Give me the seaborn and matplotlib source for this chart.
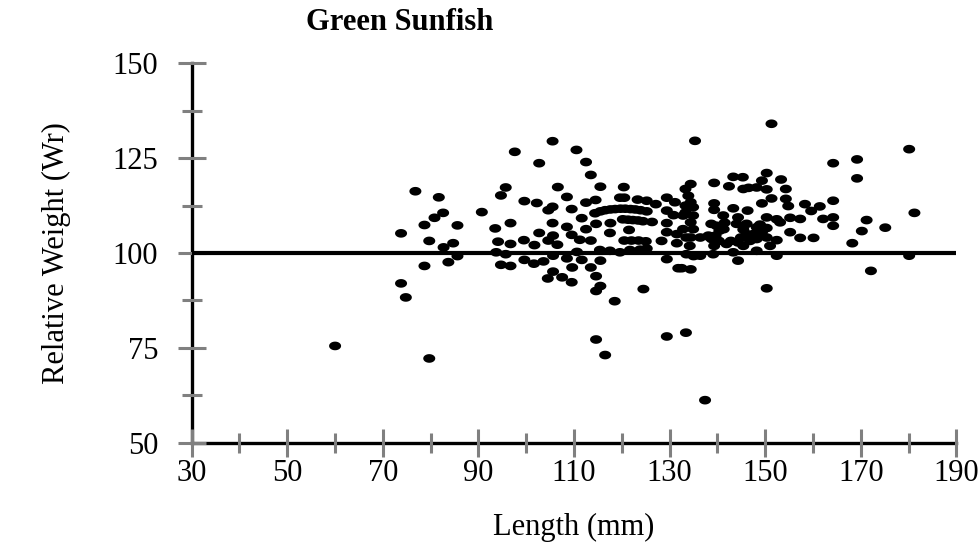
import numpy as np
import matplotlib
matplotlib.use("Agg")
import matplotlib.pyplot as plt
from matplotlib.path import Path
from matplotlib.ticker import MultipleLocator
import seaborn as sns
import pandas as pd

# ---------------- data ----------------
length_mm = [
    60.0, 73.8, 73.8, 74.8, 76.8, 78.7, 78.7, 79.7, 79.7, 80.8, 81.7, 82.6, 82.7, 83.7, 84.7, 85.6, 85.6,
    90.7, 93.5, 93.7, 94.1, 94.7, 94.7, 95.7, 95.7, 96.7, 96.7, 96.7, 97.6, 99.5, 99.6, 99.6,
    101.6, 101.7, 102.2, 102.7, 102.7, 104.6, 104.6, 104.5, 105.5, 105.5, 105.5, 105.6, 105.6, 105.6,
    106.5, 106.6, 107.5, 108.5, 108.5, 109.5, 109.6, 109.5, 110.5, 111.6, 111.6, 111.2, 112.5, 112.5,
    112.5, 113.5, 113.5, 113.5, 114.5, 114.6, 114.6, 114.6, 114.6, 115.5, 115.5, 115.5, 116.5, 117.5,
    118.5, 120.4, 124.5, 129.4,
    114.4, 115.5, 116.5, 117.6, 118.6, 119.7, 120.7, 121.8, 122.8, 123.9, 125.2,
    119.6, 120.5, 123.3, 125.2, 127.1, 129.4, 131.1, 129.4, 130.8,
    120.2, 121.3, 122.3, 123.4, 124.4, 126.3,
    117.6, 121.5,
    120.5, 122.0, 123.5, 125.0, 128.3, 131.5,
    115.4, 117.5, 119.6, 121.7, 123.8, 125.2,
    129.4, 131.8, 103.6, 108.5, 110.6, 109.5,
    129.4, 129.4, 131.5, 133.3, 133.9, 134.4, 134.9, 134.4, 134.9, 134.4, 136.4, 139.3, 139.8, 139.3,
    138.8, 138.1, 132.5, 134.4, 136.4, 133.4, 135.3, 134.4, 133.3,
    132.8, 134.9, 132.8, 133.5, 134.2, 133.5, 135.0, 133.3,
    151.3, 180.1, 164.2, 169.2, 169.2, 164.2, 181.2, 171.2, 170.2, 175.1, 168.2, 180.1, 172.1, 144.3,
    150.3, 137.4,
    150.3, 149.3, 148.2, 150.3, 153.3, 154.3, 143.3, 145.3, 142.4, 145.4, 146.5, 139.3,
    151.3, 154.3, 149.3, 158.3, 161.4, 159.6, 154.8, 143.3, 146.3, 139.3, 141.2, 144.3,
    146.1, 144.0, 148.9, 150.3, 152.4, 153.1, 155.2, 157.3, 162.1, 164.2, 164.2,
    155.2, 157.3, 160.1, 152.4, 151.0,
    138.7, 141.3, 139.6, 140.3, 142.8, 144.9, 146.1, 148.2, 149.3,
    141.9, 144.3, 145.4, 146.8, 148.2, 150.3,
    139.1, 143.3, 148.2, 152.4,
    145.4, 147.5, 150.3, 141.5, 140.4, 138.2,
]
rel_weight = [
    75.5, 105.2, 92.0, 88.3, 116.3, 107.4, 96.6, 103.2, 72.2, 109.3, 114.7, 110.6, 101.5, 97.6, 102.6, 107.3, 99.2,
    110.8, 106.5, 100.2, 103.0, 96.9, 115.2, 117.3, 99.7, 107.9, 102.4, 96.6, 126.7, 103.4, 98.2, 113.7,
    97.2, 102.1, 113.2, 123.7, 105.3, 111.3, 103.3, 93.3, 129.5, 112.2, 107.9, 104.6, 95.1, 99.3,
    102.2, 117.4, 93.6, 114.8, 106.9, 111.6, 96.2, 92.3, 127.2, 109.2, 98.2, 103.5, 124.0, 113.3,
    106.3, 103.3, 120.6, 96.2, 114.0, 107.7, 93.9, 90.0, 77.2, 117.5, 98.0, 91.3, 73.1, 105.3,
    87.3, 117.4, 90.5, 78.0,
    110.5, 111.0, 111.3, 111.5, 111.6, 111.7, 111.7, 111.6, 111.5, 111.3, 111.0,
    114.6, 114.6, 114.1, 113.8, 112.9, 114.6, 113.4, 111.2, 110.0,
    108.9, 108.8, 108.7, 108.6, 108.4, 108.2,
    107.9, 106.1,
    103.3, 103.3, 103.3, 103.1, 103.2, 102.6,
    100.8, 100.6, 100.2, 100.8, 100.9, 101.2,
    98.4, 96.0, 97.8, 98.6, 100.3, 104.8,
    107.9, 105.5, 105.0, 110.7, 115.1, 113.4, 112.1, 108.1, 106.3, 104.1, 104.1, 113.1, 107.2, 101.9,
    103.7, 104.6, 96.0, 95.7, 99.3, 79.0, 129.6, 118.2, 116.9,
    109.9, 109.9, 106.3, 104.1, 101.9, 99.7, 99.2, 112.5,
    134.1, 127.4, 123.7, 124.7, 119.7, 113.8, 110.6, 108.7, 105.8, 106.7, 102.6, 99.3, 95.3, 98.0,
    90.7, 61.2,
    121.1, 119.1, 117.3, 116.8, 119.4, 116.9, 120.1, 120.0, 117.6, 116.9, 117.2, 118.5,
    114.4, 114.3, 113.1, 112.9, 112.3, 111.1, 112.4, 111.8, 111.2, 111.4, 109.9, 109.4,
    107.7, 107.7, 107.5, 109.4, 108.9, 108.1, 109.3, 109.0, 109.0, 109.4, 107.2,
    105.5, 104.0, 104.0, 103.4, 101.9,
    107.7, 106.3, 104.6, 103.2, 103.2, 104.1, 105.0, 106.8, 105.5,
    102.4, 102.8, 101.9, 103.2, 103.7, 104.1,
    99.7, 100.2, 100.6, 99.3,
    106.2, 105.0, 106.6, 108.0, 105.9, 104.3,
]
ref_x = [30, 190]
ref_y = [100, 100]
x_ticks = [30, 50, 70, 90, 110, 130, 150, 170, 190]
y_ticks = [50, 75, 100, 125, 150]

df = pd.DataFrame({"Length": length_mm, "Wr": rel_weight})

# ---------------- figure ----------------
sns.set_theme(style="white")
plt.rcParams["font.family"] = ["Liberation Serif", "DejaVu Serif"]
plt.rcParams["text.color"] = "black"
plt.rcParams["axes.labelcolor"] = "black"
plt.rcParams["xtick.color"] = "#808080"
plt.rcParams["ytick.color"] = "#808080"

fig = plt.figure(figsize=(9.79, 5.53), dpi=100)
ax = fig.add_axes([0.1958, 0.1996, 0.7812, 0.6856])

t = np.linspace(0, 2 * np.pi, 40)
ellipse = Path(np.column_stack([np.cos(t), 0.72 * np.sin(t)]), closed=True)

ax.plot(ref_x, ref_y, color="black", lw=3.0, solid_capstyle="butt", zorder=1)
sns.scatterplot(data=df, x="Length", y="Wr", ax=ax, marker=ellipse, s=75,
                color="black", edgecolor="none", linewidth=0, zorder=2)

ax.set_xlim(30, 190)
ax.set_ylim(50, 150)
ax.set_xticks(x_ticks)
ax.set_yticks(y_ticks)
ax.xaxis.set_minor_locator(MultipleLocator(10))
ax.yaxis.set_minor_locator(MultipleLocator(12.5))

for s in ["top", "right"]:
    ax.spines[s].set_visible(False)
for s in ["left", "bottom"]:
    ax.spines[s].set_color("black")
    ax.spines[s].set_linewidth(2.4)
    ax.spines[s].set_zorder(0.5)

ax.tick_params(axis="both", which="both", bottom=True, left=True, top=False, right=False)
ax.tick_params(axis="both", which="major", direction="inout", length=20, width=2.2,
               color="#808080", labelcolor="black", labelsize=22)
ax.tick_params(axis="both", which="minor", direction="inout", length=14, width=2.2,
               color="#808080")
ax.tick_params(axis="y", which="major", pad=14)
ax.tick_params(axis="x", which="major", pad=2)

ax.set_xlabel("Length (mm)", fontsize=22, labelpad=18, color="black")
ax.set_ylabel("Relative Weight (Wr)", fontsize=22, labelpad=30, color="black")
ax.grid(False)

fig.text(400 / 979, 1 - 22 / 553, "Green Sunfish", ha="center", va="center",
         fontsize=22, fontweight="bold", color="black")

fig.savefig("out.png", dpi=100)
